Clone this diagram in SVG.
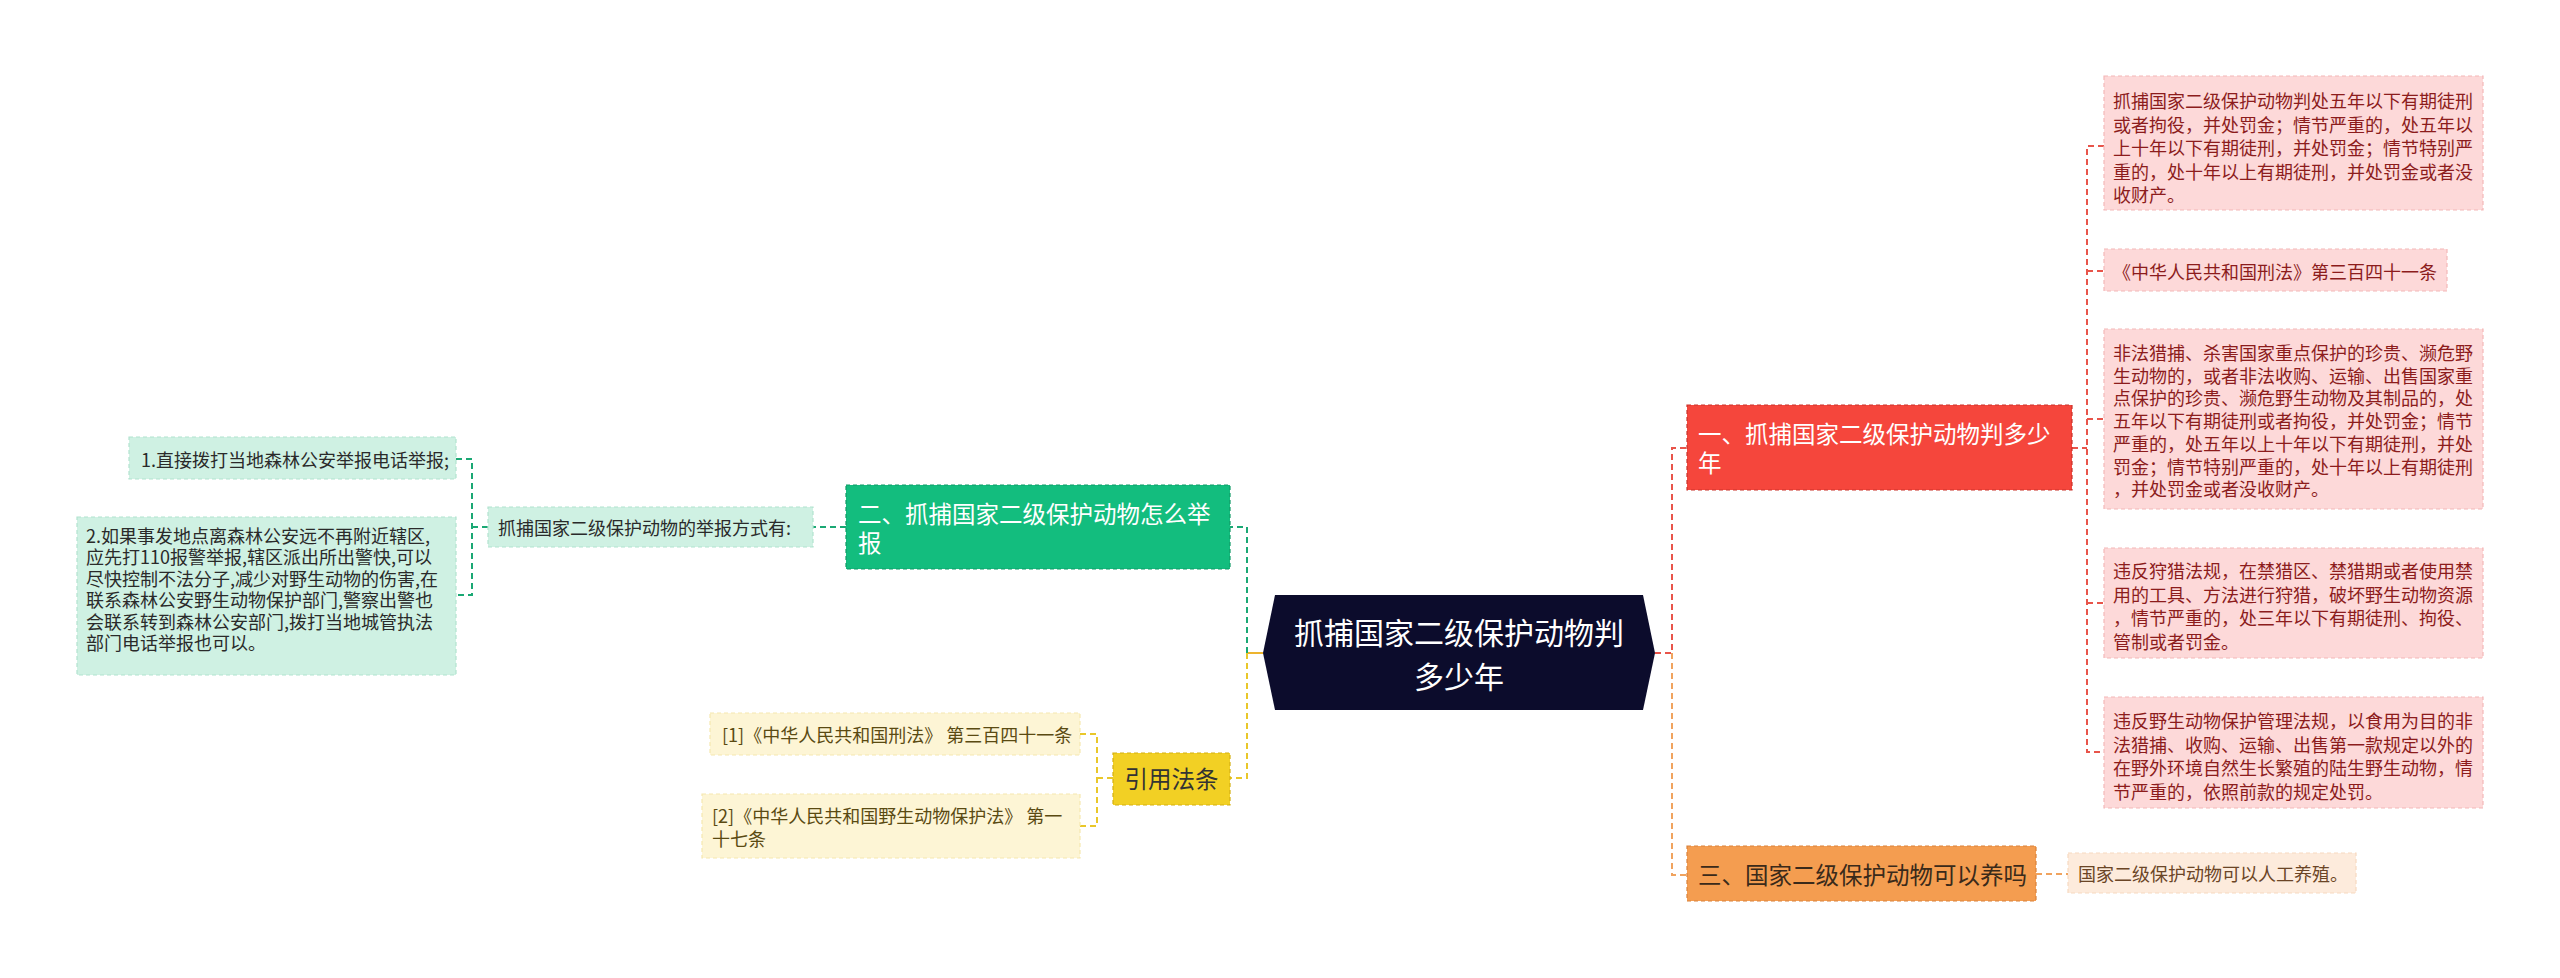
<svg xmlns="http://www.w3.org/2000/svg" width="2560" height="978" viewBox="0 0 2560 978">
<style>
text{font-family:"Noto Sans CJK SC","Noto Sans",sans-serif;dominant-baseline:central}
.c{fill:none;stroke-width:2;stroke-dasharray:6 4}
.cr{stroke:#e8544a}.cg{stroke:#1aa874}.cy{stroke:#e9c72a}.co{stroke:#f0a35e}
.b{stroke-width:1.2;stroke-dasharray:4 3}
.s{font-size:18px}
.m{font-size:23.5px}
</style>
<rect width="2560" height="978" fill="#ffffff"/>
<g id="connectors">
  <path class="c cr" d="M1655 653 H1672 V448 H1687"/>
  <path class="c co" d="M1672 653 V875 H1687"/>
  <path class="c cr" d="M2072 448 H2087"/>
  <path class="c cr" d="M2104 146 H2087 V752 H2104"/>
  <path class="c cr" d="M2087 271 H2104 M2087 419 H2104 M2087 603 H2104"/>
  <path class="c co" d="M2036 874 H2068"/>
  <path d="M1263 653 H1247" stroke="#edb42e" stroke-width="2" fill="none"/>
  <path class="c cg" d="M1247 653 V527 H1230"/>
  <path class="c cy" d="M1247 653 V778 H1230"/>
  <path class="c cg" d="M846 527 H813"/>
  <path class="c cg" d="M488 527 H472 M456 459 H472 V595 H456"/>
  <path class="c cy" d="M1113 778 H1097 M1080 734 H1097 V826 H1080"/>
</g>
<g id="root">
  <polygon points="1275,595 1643,595 1655,653 1643,710 1275,710 1263,653" fill="#0c0c2c"/>
  <text x="1459" y="631" font-size="30" fill="#ffffff" text-anchor="middle">抓捕国家二级保护动物判</text>
  <text x="1459" y="675" font-size="30" fill="#ffffff" text-anchor="middle">多少年</text>
</g>
<g id="n1">
  <rect class="b" x="1687" y="405" width="385" height="85" fill="#f5463c" stroke="#c9322a"/>
  <text class="m" x="1698" y="433" fill="#ffffff">一、抓捕国家二级保护动物判多少</text>
  <text class="m" x="1698" y="462" fill="#ffffff">年</text>
</g>
<g id="n1a">
  <rect class="b" x="2104" y="76" width="379" height="134" fill="#fdd9d9" stroke="#f3b8b8"/>
  <g class="s" fill="#8c1c1c">
    <text x="2113" y="100">抓捕国家二级保护动物判处五年以下有期徒刑</text>
    <text x="2113" y="123.5">或者拘役，并处罚金；情节严重的，处五年以</text>
    <text x="2113" y="147">上十年以下有期徒刑，并处罚金；情节特别严</text>
    <text x="2113" y="170.5">重的，处十年以上有期徒刑，并处罚金或者没</text>
    <text x="2113" y="194">收财产。</text>
  </g>
</g>
<g id="n1b">
  <rect class="b" x="2104" y="249" width="343" height="42" fill="#fdd9d9" stroke="#f3b8b8"/>
  <text class="s" x="2113" y="271" fill="#8c1c1c">《中华人民共和国刑法》第三百四十一条</text>
</g>
<g id="n1c">
  <rect class="b" x="2104" y="329" width="379" height="180" fill="#fdd9d9" stroke="#f3b8b8"/>
  <g class="s" fill="#8c1c1c">
    <text x="2113" y="352">非法猎捕、杀害国家重点保护的珍贵、濒危野</text>
    <text x="2113" y="374.7">生动物的，或者非法收购、运输、出售国家重</text>
    <text x="2113" y="397.4">点保护的珍贵、濒危野生动物及其制品的，处</text>
    <text x="2113" y="420.1">五年以下有期徒刑或者拘役，并处罚金；情节</text>
    <text x="2113" y="442.8">严重的，处五年以上十年以下有期徒刑，并处</text>
    <text x="2113" y="465.5">罚金；情节特别严重的，处十年以上有期徒刑</text>
    <text x="2113" y="488.2">，并处罚金或者没收财产。</text>
  </g>
</g>
<g id="n1d">
  <rect class="b" x="2104" y="548" width="379" height="110" fill="#fdd9d9" stroke="#f3b8b8"/>
  <g class="s" fill="#8c1c1c">
    <text x="2113" y="570">违反狩猎法规，在禁猎区、禁猎期或者使用禁</text>
    <text x="2113" y="593.5">用的工具、方法进行狩猎，破坏野生动物资源</text>
    <text x="2113" y="617">，情节严重的，处三年以下有期徒刑、拘役、</text>
    <text x="2113" y="640.5">管制或者罚金。</text>
  </g>
</g>
<g id="n1e">
  <rect class="b" x="2104" y="697" width="379" height="111" fill="#fdd9d9" stroke="#f3b8b8"/>
  <g class="s" fill="#8c1c1c">
    <text x="2113" y="720">违反野生动物保护管理法规，以食用为目的非</text>
    <text x="2113" y="743.5">法猎捕、收购、运输、出售第一款规定以外的</text>
    <text x="2113" y="767">在野外环境自然生长繁殖的陆生野生动物，情</text>
    <text x="2113" y="790.5">节严重的，依照前款的规定处罚。</text>
  </g>
</g>
<g id="n3">
  <rect class="b" x="1687" y="846" width="349" height="55" fill="#f49d50" stroke="#d9813a"/>
  <text class="m" x="1698" y="874" fill="#3a2a1a">三、国家二级保护动物可以养吗</text>
</g>
<g id="n3a">
  <rect class="b" x="2068" y="853" width="288" height="40" fill="#fdebdc" stroke="#f7d9c0"/>
  <text class="s" x="2078" y="873" fill="#6b4526">国家二级保护动物可以人工养殖。</text>
</g>
<g id="n2">
  <rect class="b" x="846" y="485" width="384" height="84" fill="#13bd7e" stroke="#0f9a66"/>
  <text class="m" x="858" y="512.5" fill="#ffffff">二、抓捕国家二级保护动物怎么举</text>
  <text class="m" x="858" y="541.5" fill="#ffffff">报</text>
</g>
<g id="n2a">
  <rect class="b" x="488" y="507" width="325" height="40" fill="#cff1e3" stroke="#b2e3cf"/>
  <text class="s" x="498" y="527" fill="#2a2a2a">抓捕国家二级保护动物的举报方式有:</text>
</g>
<g id="n2a1">
  <rect class="b" x="129" y="437" width="327" height="42" fill="#cff1e3" stroke="#b2e3cf"/>
  <text class="s" x="141" y="459" fill="#2a2a2a">1.直接拨打当地森林公安举报电话举报;</text>
</g>
<g id="n2a2">
  <rect class="b" x="77" y="517" width="379" height="158" fill="#cff1e3" stroke="#b2e3cf"/>
  <g class="s" fill="#2a2a2a">
    <text x="86" y="535">2.如果事发地点离森林公安远不再附近辖区,</text>
    <text x="86" y="556.4">应先打110报警举报,辖区派出所出警快,可以</text>
    <text x="86" y="577.8">尽快控制不法分子,减少对野生动物的伤害,在</text>
    <text x="86" y="599.2">联系森林公安野生动物保护部门,警察出警也</text>
    <text x="86" y="620.6">会联系转到森林公安部门,拨打当地城管执法</text>
    <text x="86" y="642">部门电话举报也可以。</text>
  </g>
</g>
<g id="n4">
  <rect class="b" x="1113" y="753" width="117" height="52" fill="#f2d024" stroke="#d4b010"/>
  <text class="m" x="1171.5" y="778" fill="#333333" text-anchor="middle">引用法条</text>
</g>
<g id="n4a">
  <rect class="b" x="710" y="713" width="370" height="42" fill="#fdf5d5" stroke="#f5e8b0"/>
  <text class="s" x="722" y="734" fill="#5a4a12">[1]《中华人民共和国刑法》 第三百四十一条</text>
</g>
<g id="n4b">
  <rect class="b" x="702" y="794" width="378" height="64" fill="#fdf5d5" stroke="#f5e8b0"/>
  <text class="s" x="712" y="815" fill="#5a4a12">[2]《中华人民共和国野生动物保护法》 第一</text>
  <text class="s" x="712" y="838" fill="#5a4a12">十七条</text>
</g>
</svg>
